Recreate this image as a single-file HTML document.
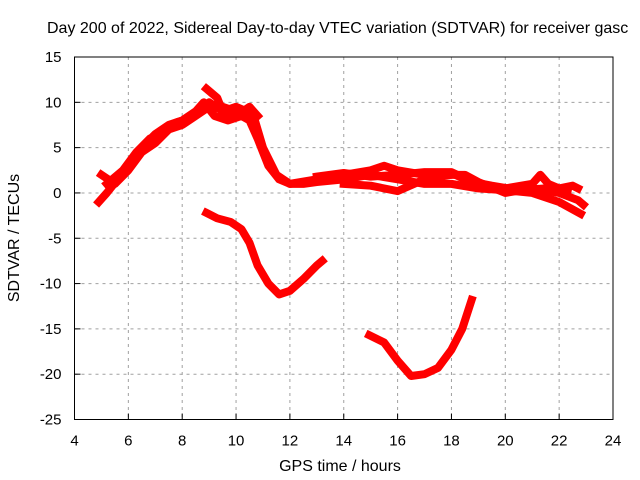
<!DOCTYPE html>
<html><head><meta charset="utf-8"><style>
body{margin:0;background:#fff}
svg{display:block;font-family:"Liberation Sans",sans-serif}
</style></head><body>
<svg id="chart" width="640" height="480" viewBox="0 0 640 480" xmlns="http://www.w3.org/2000/svg">
<rect width="640" height="480" fill="#fff"/>
<text x="47" y="33" font-size="16">Day 200 of 2022, Sidereal Day-to-day VTEC variation (SDTVAR) for receiver gasc</text>
<g id="grid"></g>
<g id="series"></g>
<g id="axes"></g>
<text x="340" y="471" font-size="16" text-anchor="middle">GPS time / hours</text>
<text transform="translate(19,238) rotate(-90)" font-size="16" text-anchor="middle">SDTVAR / TECUs</text>
</svg>
<script>
const xTicks=[4,6,8,10,12,14,16,18,20,22,24];
const yTicks=[15,10,5,0,-5,-10,-15,-20,-25];
const strandA=[[4.9,-1],[5.2,0],[5.6,1.5],[6,3],[6.5,5],[7,6.5],[7.5,7.5],[8,8],[8.5,9],[8.8,10],[9.2,8.5],[9.7,8],[10.2,8.5],[10.5,8],[10.8,6],[11.2,3],[11.6,1.5],[12,1],[12.5,1],[13,1.2],[14,1.5],[15,2],[16,1.5],[17,1],[18,1],[19,0.5],[20,0.3],[21,0],[22,-1],[22.8,-2.3]];
const strandB=[[5,2],[5.5,1],[6,2.5],[6.5,4.5],[7,5.5],[7.5,7],[8,7.5],[8.5,8.5],[9,9.5],[9.5,9.5],[10,9],[10.5,9],[10.7,8],[11,5],[11.5,2],[12,1],[13,1.5],[14,2],[15,2.5],[15.5,3],[16,2.5],[17,2],[18,2.2],[18.5,1.5],[19,1],[20,0.5],[21,1],[21.3,2],[21.6,1],[22,0.5],[22.5,0.8],[22.7,0.5]];
const strandC=[[8.9,11.5],[9.3,10.5],[9.5,9],[10,8.5],[10.5,9.5],[10.8,8.5]];
const strandD=[[14,1],[15,0.8],[16,0.2],[17,1.5],[18,2],[18.5,2],[19,1.2],[20,0],[21,0.5],[22,0],[22.7,-0.8],[22.9,-1.3]];
const strandE=[[8.9,-2.2],[9.3,-2.8],[9.8,-3.2],[10.2,-4],[10.5,-5.5],[10.8,-8],[11.2,-10],[11.6,-11.2],[12,-10.8],[12.5,-9.5],[13,-8],[13.2,-7.5]];
const strandF=[[14.95,-15.7],[15.5,-16.5],[16,-18.5],[16.5,-20.2],[17,-20],[17.5,-19.3],[18,-17.3],[18.4,-15],[18.75,-11.8]];
const strandG=[[5.2,1],[5.8,2.5],[6.3,4.5],[6.8,6],[7.3,6.5],[7.8,7.8],[8.3,8.2],[8.7,9.5],[9,10],[9.5,9],[10,9.5],[10.4,9]];
const strandH=[[13,1.8],[14,2.2],[15,1.8],[16,2],[17,2.3],[18,2.3],[18.8,1.2],[19.5,0.8],[20.5,0.3],[21.5,0.5],[22.3,0]];
const X0=74.5,X1=613,Y0=419.5,Y1=57;
const xs=v=>X0+(v-4)/(24-4)*(X1-X0);
const ys=v=>Y0-(v+25)/(40)*(Y0-Y1);
const NS="http://www.w3.org/2000/svg";
function mk(t,a,p){const e=document.createElementNS(NS,t);for(const k in a)e.setAttribute(k,a[k]);p.appendChild(e);return e;}
const grid=document.getElementById('grid'),axes=document.getElementById('axes'),ser=document.getElementById('series');
xTicks.forEach(t=>{const x=xs(t);
 if(t>4&&t<24){const l=mk('line',{x1:x,x2:x,y1:Y1,y2:Y0,stroke:'#a0a0a0','stroke-dasharray':'3,4'},grid);
 }
 const k=mk('line',{x1:x,x2:x,y1:Y0,y2:Y0-6,stroke:'#000'},axes);
 
 const tx=mk('text',{x:x,y:Y0+26,'font-size':'15','text-anchor':'middle'},axes);tx.textContent=t;
 });
yTicks.forEach(t=>{const y=ys(t);
 if(t>-25&&t<15){const l=mk('line',{x1:X0,x2:X1,y1:y,y2:y,stroke:'#a0a0a0','stroke-dasharray':'3,4'},grid);
 }
 const k=mk('line',{x1:X0,x2:X0+6,y1:y,y2:y,stroke:'#000'},axes);
 
 const tx=mk('text',{x:X0-13,y:y+5,'font-size':'15','text-anchor':'end'},axes);tx.textContent=t;
 });
const fr=mk('rect',{x:X0,y:Y1,width:X1-X0,height:Y0-Y1,fill:'none',stroke:'#000'},axes);

[strandA,strandB,strandC,strandD,strandE,strandF,strandG,strandH].forEach((s,i)=>{
 const p=mk('polyline',{points:s.map(d=>xs(d[0])+','+ys(d[1])).join(' '),fill:'none',stroke:'#f00','stroke-width':'8','stroke-linejoin':'round','stroke-linecap':'square'},ser);
 
 });
</script>
</body></html>
